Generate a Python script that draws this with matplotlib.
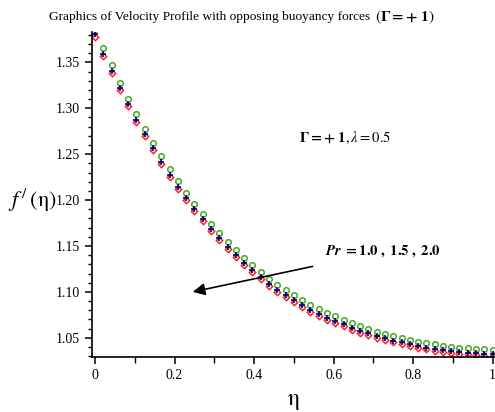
import numpy as np
import matplotlib.pyplot as plt
from matplotlib.ticker import MultipleLocator, FormatStrFormatter

plt.rcParams['font.family'] = ['Liberation Serif', 'DejaVu Serif']
plt.rcParams['mathtext.fontset'] = 'stix'

# eta grid (49 points from 0 to 1)
eta = np.linspace(0, 1, 49)

# f'(eta) for Pr = 1.0 (green circles)
pr10 = [1.3862, 1.3653, 1.3468, 1.3280, 1.3103, 1.2934, 1.2775, 1.2623, 1.2476, 1.2334,
        1.2203, 1.2077, 1.1960, 1.1849, 1.1742, 1.1641, 1.1546, 1.1456, 1.1371, 1.1291,
        1.1215, 1.1144, 1.1078, 1.1018, 1.0961, 1.0909, 1.0859, 1.0813, 1.0772, 1.0733,
        1.0695, 1.0660, 1.0627, 1.0596, 1.0568, 1.0543, 1.0519, 1.0497, 1.0477, 1.0458,
        1.0442, 1.0427, 1.0414, 1.0403, 1.0392, 1.0384, 1.0377, 1.0373, 1.0369]
# Pr = 1.5 (blue crosses)
pr15 = [1.3805, 1.3596, 1.3411, 1.3223, 1.3046, 1.2877, 1.2719, 1.2567, 1.2420, 1.2278,
        1.2147, 1.2022, 1.1905, 1.1794, 1.1688, 1.1587, 1.1492, 1.1402, 1.1318, 1.1238,
        1.1162, 1.1091, 1.1026, 1.0966, 1.0909, 1.0857, 1.0808, 1.0762, 1.0721, 1.0683,
        1.0645, 1.0610, 1.0577, 1.0547, 1.0519, 1.0494, 1.0470, 1.0449, 1.0429, 1.0410,
        1.0394, 1.0380, 1.0367, 1.0356, 1.0345, 1.0338, 1.0331, 1.0327, 1.0323]
# Pr = 2.0 (red diamonds)
pr20 = [1.3779, 1.3570, 1.3385, 1.3197, 1.3020, 1.2851, 1.2693, 1.2541, 1.2394, 1.2252,
        1.2121, 1.1996, 1.1879, 1.1769, 1.1663, 1.1562, 1.1467, 1.1377, 1.1293, 1.1213,
        1.1138, 1.1067, 1.1002, 1.0942, 1.0886, 1.0834, 1.0785, 1.0740, 1.0699, 1.0661,
        1.0624, 1.0589, 1.0556, 1.0526, 1.0498, 1.0474, 1.0450, 1.0429, 1.0409, 1.0390,
        1.0374, 1.0360, 1.0347, 1.0336, 1.0325, 1.0318, 1.0311, 1.0307, 1.0303]

fig = plt.figure(figsize=(4.95, 4.12), dpi=100)
ax = fig.add_axes([0.186, 0.134, 0.814, 0.788])

ax.plot(eta, pr10, 'o', ms=4, mfc='none', mec='#44aa22', mew=1.1)
ax.plot(eta, pr20, 'D', ms=3.2, mfc='none', mec='#ff2020', mew=1.1)
ax.plot(eta, pr15, '+', ms=5, color='#000080', mew=1.2)

ax.set_xlim(-0.0075, 1.006)
ax.set_ylim(1.0293, 1.383)

for s in ['top', 'right']:
    ax.spines[s].set_visible(False)
for s in ['left', 'bottom']:
    ax.spines[s].set_linewidth(1.2)


def xfmt(v, p):
    if abs(v) < 1e-9:
        return '0'
    if abs(v - 1) < 1e-9:
        return '1'
    return f'{v:.1f}'


ax.xaxis.set_major_locator(MultipleLocator(0.2))
ax.xaxis.set_minor_locator(MultipleLocator(0.1))
ax.yaxis.set_major_locator(MultipleLocator(0.05))
ax.yaxis.set_minor_locator(MultipleLocator(0.01))
ax.yaxis.set_major_formatter(FormatStrFormatter('%.2f'))
ax.xaxis.set_major_formatter(plt.FuncFormatter(xfmt))
ax.tick_params(axis='both', which='major', labelsize=10, length=5, width=1.1)
ax.tick_params(axis='both', which='minor', length=3, width=1)
ax.tick_params(axis='x', which='minor', length=4)

# axis labels
fig.text(32 / 495, 1 - 200 / 412, r'$f^{\,/}\,(\mathrm{\eta})$', fontsize=16, ha='center', va='center')
fig.text(293 / 495, 1 - 401 / 412, r'$\mathrm{\eta}$', fontsize=17, ha='center', va='center')

# title
fig.text(370 / 495, 1 - 17 / 412, 'Graphics of Velocity Profile with opposing buoyancy forces',
         fontsize=9.6, ha='right', va='center')
fig.text(375 / 495, 1 - 17 / 412, r'$(\mathbf{\Gamma = +\ 1})$', fontsize=11, ha='left', va='center')

# annotations
ax.text(0.629, 1.2675, r'$\mathbf{\Gamma = +\ 1},\lambda = 0.5$', fontsize=10.5, ha='center', va='center')
ax.text(0.725, 1.1433, r'$\boldsymbol{Pr}\ \mathbf{= 1.0\ ,\ 1.5\ ,\ 2.0}$', fontsize=10.5,
        ha='center', va='center')
ax.annotate('', xy=(0.239, 1.0994), xytext=(0.554, 1.1284),
            arrowprops=dict(arrowstyle='-|>', color='black', lw=1.2, mutation_scale=18))

fig.savefig('out.png', dpi=100)
